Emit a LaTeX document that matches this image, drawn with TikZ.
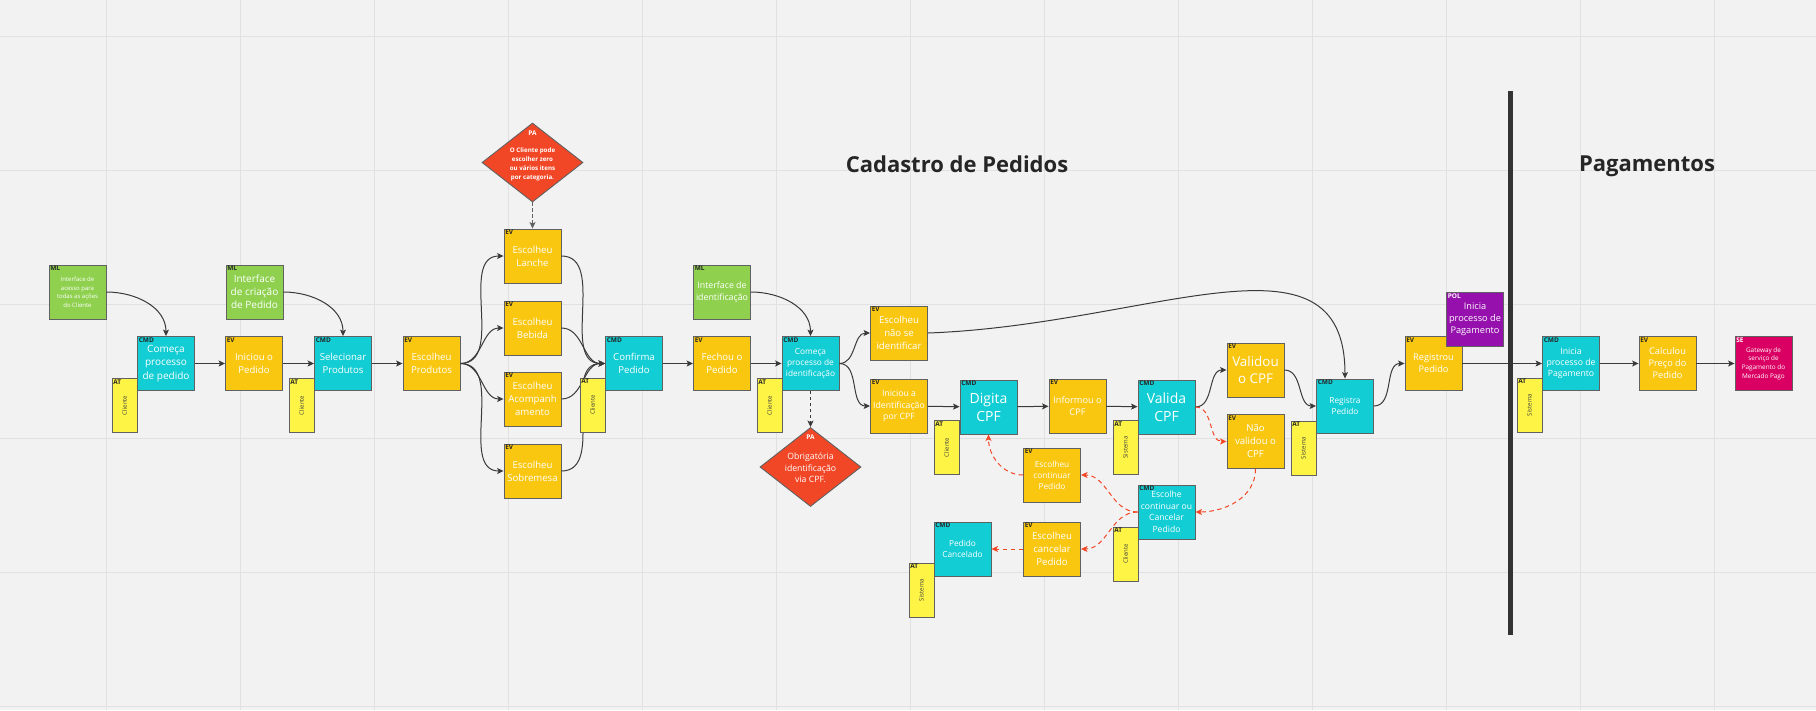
\documentclass[tikz,border=0pt]{standalone}
\usepackage{fontspec}
\setmainfont{Open Sans}
\usepackage{graphicx}
\usepackage{tikz}
\usetikzlibrary{arrows.meta,shapes.geometric}

\definecolor{cmdc}{HTML}{12CDD4}
\definecolor{evc}{HTML}{FAC710}
\definecolor{mlc}{HTML}{8FD14F}
\definecolor{atc}{HTML}{FEF445}
\definecolor{pac}{HTML}{F24726}
\definecolor{polc}{HTML}{9510AC}
\definecolor{sec}{HTML}{DA0063}
\definecolor{boxline}{HTML}{616161}
\definecolor{linec}{HTML}{3A3A3A}
\definecolor{barc}{HTML}{333333}
\definecolor{bgc}{HTML}{F2F2F2}
\definecolor{gridc}{HTML}{E1E1E1}
\definecolor{tagc}{HTML}{262626}
\definecolor{atxt}{HTML}{3F3F3F}

\tikzset{
  sz/.style 2 args={font=\fontsize{#1}{#2}\selectfont},
  tag/.style={anchor=north west, inner sep=1.5, font=\fontsize{6.5}{7.5}\selectfont\bfseries, text=tagc},
  wtag/.style={tag, text=white},
  box/.style={draw=boxline, line width=0.9pt, minimum width=57, minimum height=54,
    inner sep=1, align=center, text=white, sz={9.6}{12.8}},
  cmd/.style={box, fill=cmdc, label={[tag]north west:CMD}},
  ev/.style={box, fill=evc, label={[tag]north west:EV}},
  ml/.style={box, fill=mlc, label={[tag]north west:ML}},
  pol/.style={box, fill=polc, label={[wtag]north west:POL}},
  se/.style={box, fill=sec, label={[wtag]north west:SE}},
  actor/.style={draw=boxline, line width=0.9pt, fill=atc, minimum width=25, minimum height=54, inner sep=0,
    text=atxt, sz={6}{7}, label={[tag]north west:AT}},
  pa/.style={diamond, draw=boxline, line width=0.9pt, fill=pac, minimum width=101, minimum height=79, inner sep=0},
  patxt/.style={text=white, align=center, inner sep=0},
  flow/.style={draw=linec, line width=1pt, -{Stealth[length=6.5pt,width=6pt,inset=1.5pt]}},
  padash/.style={flow, dash pattern=on 3.5pt off 2.5pt},
  redflow/.style={flow, draw=pac, dash pattern=on 4.5pt off 3.5pt, -{Stealth[length=6.5pt,width=6pt,inset=1.5pt,fill=pac]}},
  title/.style={anchor=base, inner sep=0, text=tagc, font=\fontsize{22}{26}\selectfont\bfseries}
}

\begin{document}
\begin{tikzpicture}[x=1pt,y=-1pt]
\fill[bgc] (0,0) rectangle (1816,710);
\useasboundingbox (0,0) rectangle (1816,710);
\foreach \x in {106,240,...,1714} \draw[gridc, line width=0.8pt] (\x,0) -- (\x,710);
\foreach \y in {36,170,...,706} \draw[gridc, line width=0.8pt] (0,\y) -- (1816,\y);

\node[title] (t1) at (957,172) {Cadastro de Pedidos};
\node[title] (t2) at (1647,171) {Pagamentos};

% cadastro
\node[ml, sz={6}{8.5}] (ml1) at (77.5,292) {Interface de\\acesso para\\todas as ações\\do Cliente};
\node[cmd, sz={10}{13.7}] (cmd1) at (166,363.5) {Começa\\processo\\de pedido};
\node[ev] (ev1) at (254,363.5) {Iniciou o\\Pedido};
\node[ml, sz={10}{13}] (ml2) at (254.5,292) {Interface\\de criação\\de Pedido};
\node[cmd] (cmd2) at (343,363.5) {Selecionar\\Produtos};
\node[ev] (ev2) at (431.5,363.5) {Escolheu\\Produtos};
\node[pa] (pa1) at (532.5,162.5) {};
\node[wtag, anchor=center] (pa1t) at (532.5,133) {PA};
\node[patxt, font=\fontsize{6.2}{9}\selectfont\bfseries] (pa1x) at (532.5,164) {O Cliente pode\\escolher zero\\ou vários itens\\por categoria.};
\node[ev] (ev3) at (532.5,256) {Escolheu\\Lanche};
\node[ev] (ev4) at (532.5,328) {Escolheu\\Bebida};
\node[ev] (ev5) at (532.5,399) {Escolheu\\Acompanh\\amento};
\node[ev] (ev6) at (532.5,471) {Escolheu\\Sobremesa};
\node[cmd] (cmd3) at (634,363.5) {Confirma\\Pedido};
\node[ml, sz={8.8}{11.7}] (ml3) at (722,292) {Interface de\\identificação};
\node[ev] (ev7) at (722,363.5) {Fechou o\\Pedido};
\node[cmd, sz={8.3}{11}] (cmd4) at (810.5,363.5) {Começa\\processo de\\identificação};
\node[pa] (pa2) at (810.5,467) {};
\node[wtag, anchor=center] (pa2t) at (810.5,437) {PA};
\node[patxt, sz={8.7}{11.5}] (pa2x) at (810.5,468) {Obrigatória\\identificação\\via CPF.};
\node[ev] (ev8) at (899,333) {Escolheu\\não se\\identificar};
\node[ev, sz={8.7}{11.5}] (ev9) at (899,406) {Iniciou a\\Identificação\\por CPF};
\node[cmd, sz={14}{18}] (cmd5) at (988.5,407) {Digita\\CPF};
\node[ev, sz={9.2}{12.3}] (ev10) at (1077.5,406) {Informou o\\CPF};
\node[cmd, sz={14}{18}] (cmd6) at (1166.5,407) {Valida\\CPF};
\node[ev, sz={13.4}{17.7}] (ev11) at (1255.5,370) {Validou\\o CPF};
\node[ev, sz={9.6}{13}] (ev12) at (1255.5,441.5) {Não\\validou o\\CPF};
\node[ev, sz={8.3}{11}] (ev13) at (1052,475) {Escolheu\\continuar\\Pedido};
\node[cmd, sz={8.6}{11.5}] (cmd7) at (1166.5,512) {Escolhe\\continuar ou\\Cancelar\\Pedido};
\node[ev, sz={9.6}{13}] (ev14) at (1052,549) {Escolheu\\cancelar\\Pedido};
\node[cmd, sz={8.3}{11.3}] (cmd8) at (962.5,549) {Pedido\\Cancelado};
\node[cmd, sz={8.3}{11}] (cmd9) at (1345,406) {Registra\\Pedido};
\node[ev, sz={9.2}{12}] (ev15) at (1433.5,363.5) {Registrou\\Pedido};

% pagamentos
\node[cmd, sz={8.7}{11.2}] (cmd10) at (1571,363.5) {Inicia\\processo de\\Pagamento};
\node[ev, sz={9.2}{12}] (ev16) at (1667.5,363.5) {Calculou\\Preço do\\Pedido};
\node[se, sz={6.4}{8.7}] (se) at (1763.5,363.5) {Gateway de\\serviço de\\Pagamento do\\Mercado Pago};

\draw[flow] (ml1) to[out=0,in=90] (cmd1);
\draw[flow] (cmd1) -- (ev1);
\draw[flow] (ev1) -- (cmd2);
\draw[flow] (ml2) to[out=0,in=90] (cmd2);
\draw[flow] (cmd2) -- (ev2);
\foreach \n in {ev3,ev4,ev5,ev6}{
  \draw[flow] (ev2) to[out=0,in=180] (\n);
  \draw[flow] (\n) to[out=0,in=180] (cmd3);
}
\draw[padash, draw=boxline] (pa1) -- (ev3);
\draw[flow] (cmd3) -- (ev7);
\draw[flow] (ev7) -- (cmd4);
\draw[flow] (ml3) to[out=0,in=90] (cmd4);
\draw[flow] (cmd4) to[out=0,in=180] (ev8);
\draw[flow] (cmd4) to[out=0,in=180] (ev9);
\draw[padash] (cmd4) -- (pa2);
\draw[flow] (ev9) -- (cmd5);
\draw[flow] (cmd5) -- (ev10);
\draw[flow] (ev10) -- (cmd6);
\draw[flow] (cmd6) to[out=0,in=180] (ev11);
\draw[flow] (ev11) to[out=0,in=180] (cmd9);
\draw[flow] (ev8.east) .. controls (1150,325) and (1345,220) .. (cmd9.north);
\draw[redflow] (cmd6) to[out=0,in=180] (ev12);
\draw[redflow] (ev12) to[out=-90,in=0] (cmd7);
\draw[redflow] (cmd7) to[out=180,in=0] (ev13);
\draw[redflow] (cmd7) to[out=180,in=0] (ev14);
\draw[redflow] (ev13) to[out=180,in=-90] (cmd5);
\draw[redflow] (ev14) -- (cmd8);
\draw[flow] (cmd9) to[out=0,in=180] (ev15);
\draw[flow] (ev15) -- (cmd10);
\draw[flow] (cmd10) -- (ev16);
\draw[flow] (ev16) -- (se);

% atores e politica por cima
\node[actor] (at1) at (124.5,405.5) {\rotatebox{90}{Cliente}};
\node[actor] (at2) at (301.5,405.5) {\rotatebox{90}{Cliente}};
\node[actor] (at3) at (592.5,405) {\rotatebox{90}{Cliente}};
\node[actor] (at4) at (769.5,405.5) {\rotatebox{90}{Cliente}};
\node[actor] (at5) at (946.5,447.5) {\rotatebox{90}{Cliente}};
\node[actor] (at6) at (1125.5,447.5) {\rotatebox{90}{Sistema}};
\node[actor] (at7) at (1125.5,554) {\rotatebox{90}{Cliente}};
\node[actor] (at8) at (921.5,590) {\rotatebox{90}{Sistema}};
\node[actor] (at9) at (1303.5,448) {\rotatebox{90}{Sistema}};
\node[actor] (at10) at (1529.5,405) {\rotatebox{90}{Sistema}};
\node[pol, sz={9.2}{12}] (pol) at (1475,319.5) {Inicia\\processo de\\Pagamento};

\draw[barc, line width=5pt] (1510,91) -- (1510,635);
\end{tikzpicture}
\end{document}
